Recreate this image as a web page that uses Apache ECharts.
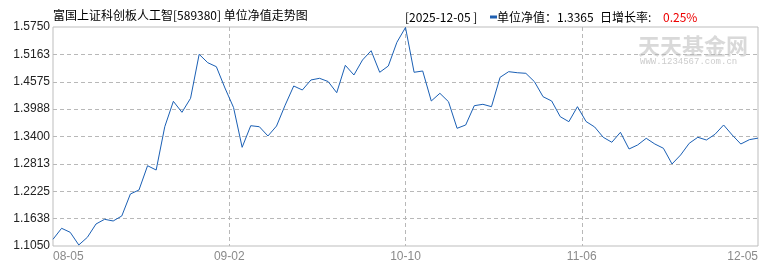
<!DOCTYPE html>
<html>
<head>
<meta charset="utf-8">
<script src="https://cdn.jsdelivr.net/npm/echarts@6/dist/echarts.min.js"></script>
<style>
html,body{margin:0;padding:0;background:#fff;}
#chart{width:770px;height:270px;}
</style>
</head>
<body>
<div id="chart"></div>
<script>
// Unit NAV series (one point per trading day, 08-05 .. 12-05)
const navValues = [
  1.1194, 1.1430, 1.1344, 1.1072, 1.1237, 1.1522, 1.1623, 1.1587, 1.1694, 1.2166,
  1.2252, 1.2773, 1.2681, 1.3610, 1.4155, 1.3919, 1.4220, 1.5164, 1.4984, 1.4898,
  1.4441, 1.4022, 1.3168, 1.3632, 1.3610, 1.3411, 1.3625, 1.4072, 1.4484, 1.4398,
  1.4613, 1.4649, 1.4580, 1.4340, 1.4928, 1.4720, 1.5042, 1.5241, 1.4778, 1.4913,
  1.5422, 1.5740, 1.4778, 1.4806, 1.4162, 1.4327, 1.4147, 1.3576, 1.3647, 1.4061,
  1.4091, 1.4040, 1.4670, 1.4791, 1.4769, 1.4756, 1.4576, 1.4254, 1.4162, 1.3825,
  1.3718, 1.4040, 1.3722, 1.3604, 1.3383, 1.3276, 1.3490, 1.3132, 1.3218, 1.3361,
  1.3239, 1.3147, 1.2810, 1.3003, 1.3254, 1.3383, 1.3325, 1.3447, 1.3647, 1.3432,
  1.3239, 1.3332, 1.3365
];
const categories = navValues.map((v, i) => String(i));
const xTickLabels = ['08-05', '09-02', '10-10', '11-06', '12-05'];
const yTickLabels = ['1.1050', '1.1638', '1.2225', '1.2813', '1.3400', '1.3988', '1.4575', '1.5163', '1.5750'];
const yMin = 1.105, yMax = 1.575;
const titleText = '富国上证科创板人工智[589380] 单位净值走势图';
const dateText = '[2025-12-05 ]';
const navText = '单位净值：1.3365';
const growthLabel = '日增长率:';
const growthText = '0.25%';

const chart = echarts.init(document.getElementById('chart'), null, {renderer: 'canvas'});
const dash = {type: [4, 3], color: '#b8b8b8', width: 1};
const cjk = '"Noto Sans CJK SC", "Noto Sans", sans-serif';
chart.setOption({
  animation: false,
  backgroundColor: '#fff',
  grid: {left: 53, right: 12, top: 27, bottom: 24, show: true, borderColor: '#bdbdbd', borderWidth: 1},
  xAxis: [
    {type: 'category', data: categories, boundaryGap: false, show: false},
    {type: 'value', min: 0, max: xTickLabels.length - 1, interval: 1, position: 'bottom',
     axisLine: {show: false}, axisTick: {show: false},
     axisLabel: {formatter: v => xTickLabels[Math.round(v)], color: '#8a8a8a', fontSize: 12,
                 fontFamily: 'Liberation Sans', margin: 5, alignMinLabel: 'left', alignMaxLabel: 'right'},
     splitLine: {show: true, showMinLine: false, showMaxLine: false, lineStyle: dash}}
  ],
  yAxis: [
    {type: 'value', min: yMin, max: yMax, show: false},
    {type: 'value', min: 0, max: yTickLabels.length - 1, interval: 1, position: 'left',
     axisLine: {show: false}, axisTick: {show: false},
     axisLabel: {formatter: v => yTickLabels[Math.round(v)], color: '#222', fontSize: 12,
                 fontFamily: 'Liberation Sans', margin: 3},
     splitLine: {show: true, showMinLine: false, showMaxLine: false, lineStyle: dash}}
  ],
  series: [{
    type: 'line', xAxisIndex: 0, yAxisIndex: 0, data: navValues,
    showSymbol: false, symbol: 'none',
    lineStyle: {color: '#1a5fb4', width: 1}
  }],
  graphic: [
    {type: 'text', x: 638, y: 46, z: -1, style: {text: '天天基金网', fill: '#d9d9d9', font: 'bold 22px ' + cjk, verticalAlign: 'middle'}},
    {type: 'text', x: 640, y: 62, z: -1, style: {text: 'WWW.1234567.com.cn', fill: '#cccccc', font: '9px "Liberation Mono"', verticalAlign: 'middle'}},
    {type: 'text', x: 53, y: 15, style: {text: titleText, fill: '#000', font: '12px ' + cjk, verticalAlign: 'middle'}},
    {type: 'text', x: 405, y: 17, style: {text: dateText, fill: '#000', font: '12px ' + cjk, verticalAlign: 'middle'}},
    {type: 'rect', shape: {x: 490, y: 15.5, width: 7, height: 3}, style: {fill: '#1f5fb0'}},
    {type: 'text', x: 497, y: 17, style: {text: navText, fill: '#000', font: '12px ' + cjk, verticalAlign: 'middle'}},
    {type: 'text', x: 600, y: 17, style: {text: growthLabel, fill: '#000', font: '12px ' + cjk, verticalAlign: 'middle'}},
    {type: 'text', x: 663, y: 17, style: {text: growthText, fill: '#ee0000', font: '12px ' + cjk, verticalAlign: 'middle'}}
  ]
});
</script>
</body>
</html>
